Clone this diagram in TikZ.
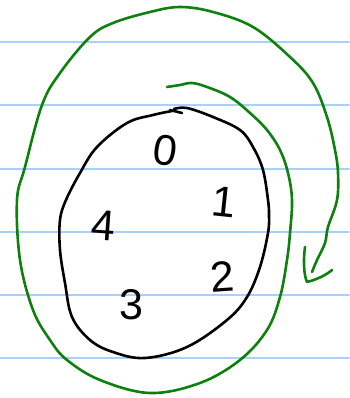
\documentclass[tikz,border=0pt]{standalone}
\usepackage{fontspec}
\setsansfont{Liberation Sans}
\definecolor{RuleClr}{rgb}{0.66,0.82,0.98}
\definecolor{LoopClr}{rgb}{0,0,0}
\definecolor{SpiralClr}{rgb}{0.05,0.5,0.05}

\begin{document}
\begin{tikzpicture}[x=1pt,y=-1pt,line cap=round,line join=round,
  ruleline/.style={RuleClr,line width=1.6pt},
  loopline/.style={LoopClr,line width=2.6pt},
  spiralline/.style={SpiralClr,line width=2.6pt},
  digit/.style={font=\sffamily\fontsize{43}{43}\selectfont,inner sep=0pt}]
\useasboundingbox (0,0) rectangle (349,398);

\foreach \y in {42,105,169,232,295,358}
  \draw[ruleline] (0,\y) -- (349,\y);

\draw[loopline] plot[smooth,tension=0.6] coordinates {(174,109) (187,108) (213,117) (240,130) (253,147) (263,170) (268,200) (269,215) (268,233) (260,267) (247,297) (227,320) (187,347) (145,358) (113,352) (90,340) (72,317) (65,283) (60,250) (60,220) (66,200) (80,173) (97,147) (127,123) (153,115) (172,111)};
\draw[loopline] (170,110) -- (182,113);

\draw[spiralline] plot[smooth,tension=0.6] coordinates {(167,87) (180,85) (192,83) (207,87) (230,97) (250,113) (267,130) (280,150) (288,173) (292,200) (290,233) (287,260) (280,297) (267,330) (240,360) (200,383) (150,393) (100,380) (67,360) (50,340) (33,310) (20,260) (17,200) (25,167) (42,105) (60,73) (90,37) (113,23) (150,12) (180,7) (213,12) (253,27) (290,57) (313,83) (327,117) (335,150) (338,173) (337,200) (328,227) (325,243) (317,260) (312,272)};
\coordinate (tip) at (307,282);
\draw[spiralline] (305,247) .. controls (303,262) and (304,275) .. (tip) .. controls (315,280) and (325,276) .. (332,270);

\node[digit,rotate=-8] (d0) at (165,151) {0};
\node[digit,rotate=-6] (d1) at (224,202) {1};
\node[digit,rotate=-4] (d4) at (103,226) {4};
\node[digit,rotate=4] (d2) at (222,277) {2};
\node[digit] (d3) at (131,305) {3};
\end{tikzpicture}
\end{document}
